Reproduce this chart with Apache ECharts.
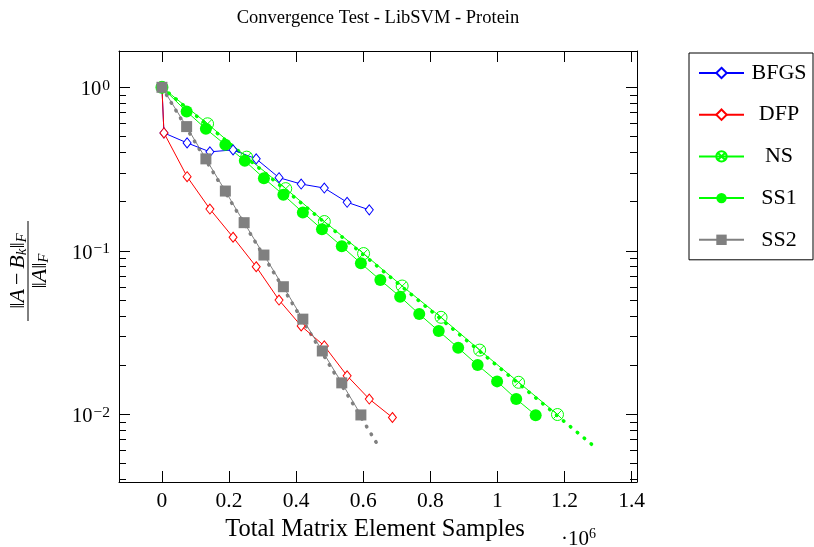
<!DOCTYPE html>
<html>
<head>
<meta charset="utf-8">
<script src="https://cdn.jsdelivr.net/npm/echarts@6/dist/echarts.min.js"></script>
<style>
html,body{margin:0;padding:0;background:#fff;}
#chart{width:814px;height:547px;}
</style>
</head>
<body>
<div id="chart"></div>
<script>
// ---- data (x in units of 10^6 samples) ----
const bfgsX = [0, 0.006, 0.075, 0.143, 0.212, 0.281, 0.349, 0.415, 0.484, 0.552, 0.618];
const bfgsY = [1, 0.526, 0.457, 0.403, 0.414, 0.365, 0.280, 0.256, 0.242, 0.198, 0.178];

const dfpX = [0, 0.006, 0.075, 0.143, 0.212, 0.281, 0.349, 0.415, 0.484, 0.552, 0.618, 0.687];
const dfpY = [1, 0.526, 0.284, 0.180, 0.121, 0.0799, 0.0500, 0.0347, 0.0262, 0.0172, 0.0124, 0.00956];

const nsX = [0, 0.136, 0.2525, 0.369, 0.484, 0.601, 0.716, 0.832, 0.947, 1.063, 1.179];
const nsY = [1, 0.598, 0.374, 0.240, 0.151, 0.0962, 0.0609, 0.0392, 0.0247, 0.0157, 0.00997];

const ss1X = [0, 0.0736, 0.131, 0.189, 0.247, 0.304, 0.362, 0.420, 0.477, 0.536, 0.593, 0.651, 0.710, 0.767, 0.825, 0.883, 0.941, 0.999, 1.056, 1.114];
const ss1Y = [1, 0.711, 0.557, 0.445, 0.355, 0.278, 0.220, 0.1716, 0.1355, 0.1066, 0.0839, 0.0662, 0.0524, 0.0410, 0.0323, 0.0255, 0.0200, 0.0159, 0.0124, 0.00988];

const ss2X = [0, 0.0736, 0.131, 0.189, 0.245, 0.304, 0.362, 0.420, 0.478, 0.536, 0.593];
const ss2Y = [1, 0.575, 0.365, 0.232, 0.1486, 0.0942, 0.0603, 0.0382, 0.0244, 0.01557, 0.00991];

// dotted reference lines (end points)
const nsFitX = [0, 1.284];
const nsFitY = [1, 0.00647];
const ss2FitX = [0, 0.642];
const ss2FitY = [1, 0.00656];

const seriesNames = ['BFGS', 'DFP', 'NS', 'SS1', 'SS2'];
const xTicks = [0, 0.2, 0.4, 0.6, 0.8, 1, 1.2, 1.4];
const yMajorTicks = [0.01, 0.1, 1];
const yMinorTicks = [0.004, 0.005, 0.006, 0.007, 0.008, 0.009,
  0.02, 0.03, 0.04, 0.05, 0.06, 0.07, 0.08, 0.09,
  0.2, 0.3, 0.4, 0.5, 0.6, 0.7, 0.8, 0.9];
const titleText = 'Convergence Test - LibSVM - Protein';
const xName = 'Total Matrix Element Samples';

// ---- layout ----
const FONT = 'Liberation Serif';
const X_MIN = -0.128, X_MAX = 1.416;
const Y_MIN = Math.pow(10, -2.414), Y_MAX = Math.pow(10, 0.222);

function zip(xs, ys) { return xs.map((x, i) => [x, ys[i]]); }

const NS_SYMBOL = 'path://M10 0A10 10 0 1 1 -10 0A10 10 0 1 1 10 0ZM7.07 7.07L-7.07 -7.07M7.07 -7.07L-7.07 7.07';

const chart = echarts.init(document.getElementById('chart'), null, {renderer: 'canvas'});

function yAxisDef(pos, major, labels) {
  return {
    type: 'log', logBase: 10, min: Y_MIN, max: Y_MAX, position: pos,
    axisLine: {show: major, onZero: false, lineStyle: {color: '#000', width: 1}},
    axisTick: {show: true, inside: true, length: major ? 11 : 7,
      customValues: major ? yMajorTicks : yMinorTicks,
      lineStyle: {color: '#000', width: 1}},
    axisLabel: labels ? {
      show: true, customValues: yMajorTicks, margin: 9, padding: [5, 0, 0, 0],
      formatter: function (v) {
        const e = Math.round(Math.log10(v));
        return '{b|10}{e|' + (e < 0 ? '\u2212' + (-e) : e) + '}';
      },
      rich: {
        b: {fontFamily: FONT, fontSize: 20.5, color: '#000', lineHeight: 24},
        e: {fontFamily: FONT, fontSize: 15.5, color: '#000', lineHeight: 14, verticalAlign: 'top', padding: [0, 0, 0, 1]}
      }
    } : {show: false},
    splitLine: {show: false},
    minorTick: {show: false}
  };
}

function xAxisDef(pos, labels) {
  return {
    type: 'value', min: X_MIN, max: X_MAX, position: pos,
    axisLine: {show: true, onZero: false, lineStyle: {color: '#000', width: 1}},
    axisTick: {show: true, inside: true, length: 11, customValues: xTicks, lineStyle: {color: '#000', width: 1}},
    axisLabel: labels ? {show: true, customValues: xTicks, margin: 8,
      fontFamily: FONT, fontSize: 21.5, color: '#000',
      formatter: function (v) { return String(v); }} : {show: false},
    splitLine: {show: false},
    name: labels ? xName : '',
    nameLocation: 'middle', nameGap: 35,
    nameTextStyle: {fontFamily: FONT, fontSize: 24.5, color: '#000', padding: [0, 6, 0, 0]}
  };
}

const FRAC_RICH = {
  m: {fontFamily: FONT, fontSize: 22, fill: '#000', lineHeight: 24},
  o: {fontFamily: FONT, fontSize: 22, fill: '#000', lineHeight: 24, padding: [0, 4, 0, 4]},
  i: {fontFamily: FONT, fontSize: 22, fontStyle: 'italic', fill: '#000', lineHeight: 24},
  s: {fontFamily: FONT, fontSize: 15, fontStyle: 'italic', fill: '#000', lineHeight: 15, verticalAlign: 'bottom'}
};

const option = {
  animation: false,
  backgroundColor: '#fff',
  title: {
    text: titleText, left: 373, top: 4, textAlign: 'center',
    textStyle: {fontFamily: FONT, fontSize: 18.5, fontWeight: 'normal', color: '#000'}
  },
  grid: {left: 119, top: 51, width: 518, height: 431, containLabel: false},
  legend: {
    data: seriesNames,
    orient: 'vertical', left: 689, top: 53,
    padding: [9, 4, 9, 9], itemGap: 19.7, itemWidth: 45, itemHeight: 13,
    borderColor: '#000', borderWidth: 1, borderRadius: 0,
    selectedMode: false,
    formatter: function (n) { return '{c|' + n + '}'; },
    textStyle: {color: '#000', fontFamily: FONT, fontSize: 22, lineHeight: 20,
      rich: {c: {width: 60, align: 'center', fontFamily: FONT, fontSize: 22, color: '#000', lineHeight: 20}}}
  },
  xAxis: [xAxisDef('bottom', true), xAxisDef('top', false)],
  yAxis: [yAxisDef('left', true, true), yAxisDef('left', false, false),
          yAxisDef('right', true, false), yAxisDef('right', false, false)],
  series: [
    {name: 'NS fit', type: 'line', data: zip(nsFitX, nsFitY), symbol: 'none', silent: true,
     lineStyle: {color: '#00ff00', width: 3.6, type: [0.5, 8.5], cap: 'round'}, z: 1},
    {name: 'SS2 fit', type: 'line', data: zip(ss2FitX, ss2FitY), symbol: 'none', silent: true,
     lineStyle: {color: '#808080', width: 3.6, type: [0.5, 8.5], cap: 'round'}, z: 1},
    {name: 'BFGS', type: 'line', data: zip(bfgsX, bfgsY), symbol: 'diamond', symbolSize: [8, 10],
     showAllSymbol: true, lineStyle: {color: '#0000ff', width: 1},
     itemStyle: {color: '#ffffff', borderColor: '#0000ff', borderWidth: 1}},
    {name: 'DFP', type: 'line', data: zip(dfpX, dfpY), symbol: 'diamond', symbolSize: [8, 10],
     showAllSymbol: true, lineStyle: {color: '#ff0000', width: 1},
     itemStyle: {color: '#ffffff', borderColor: '#ff0000', borderWidth: 1}},
    {name: 'NS', type: 'line', data: zip(nsX, nsY), symbol: NS_SYMBOL, symbolSize: 12,
     showAllSymbol: true, lineStyle: {color: '#00ff00', width: 1},
     itemStyle: {color: 'rgba(255,255,255,0)', borderColor: '#00ff00', borderWidth: 1}},
    {name: 'SS1', type: 'line', data: zip(ss1X, ss1Y), symbol: 'circle', symbolSize: 12,
     showAllSymbol: true, lineStyle: {color: '#00ff00', width: 1},
     itemStyle: {color: '#00ff00', borderWidth: 0}},
    {name: 'SS2', type: 'line', data: zip(ss2X, ss2Y), symbol: 'rect', symbolSize: 11,
     showAllSymbol: true, lineStyle: {color: '#808080', width: 1},
     itemStyle: {color: '#808080', borderWidth: 0}}
  ],
  graphic: [
    {type: 'group', x: 28, y: 271, rotation: Math.PI / 2, children: [
      {type: 'text', x: 0, y: -10, style: {
        text: '{m|\u2016}{i|A}{o|\u2212}{i|B}{s|k}{m|\u2016}{s|F}',
        align: 'center', verticalAlign: 'middle', rich: FRAC_RICH}},
      {type: 'line', shape: {x1: -50, y1: 0, x2: 50, y2: 0}, style: {stroke: '#000', lineWidth: 1}},
      {type: 'text', x: 0, y: 12, style: {
        text: '{m|\u2016}{i|A}{m|\u2016}{s|F}',
        align: 'center', verticalAlign: 'middle', rich: FRAC_RICH}}
    ]},
    {type: 'text', x: 561, y: 539, style: {
      text: '{m|\u00b710}{p|6}', align: 'left', verticalAlign: 'middle',
      rich: {
        m: {fontFamily: FONT, fontSize: 21, fill: '#000', lineHeight: 24},
        p: {fontFamily: FONT, fontSize: 14, fill: '#000', lineHeight: 14, verticalAlign: 'top'}
      }}}
  ]
};
chart.setOption(option);
</script>
</body>
</html>
